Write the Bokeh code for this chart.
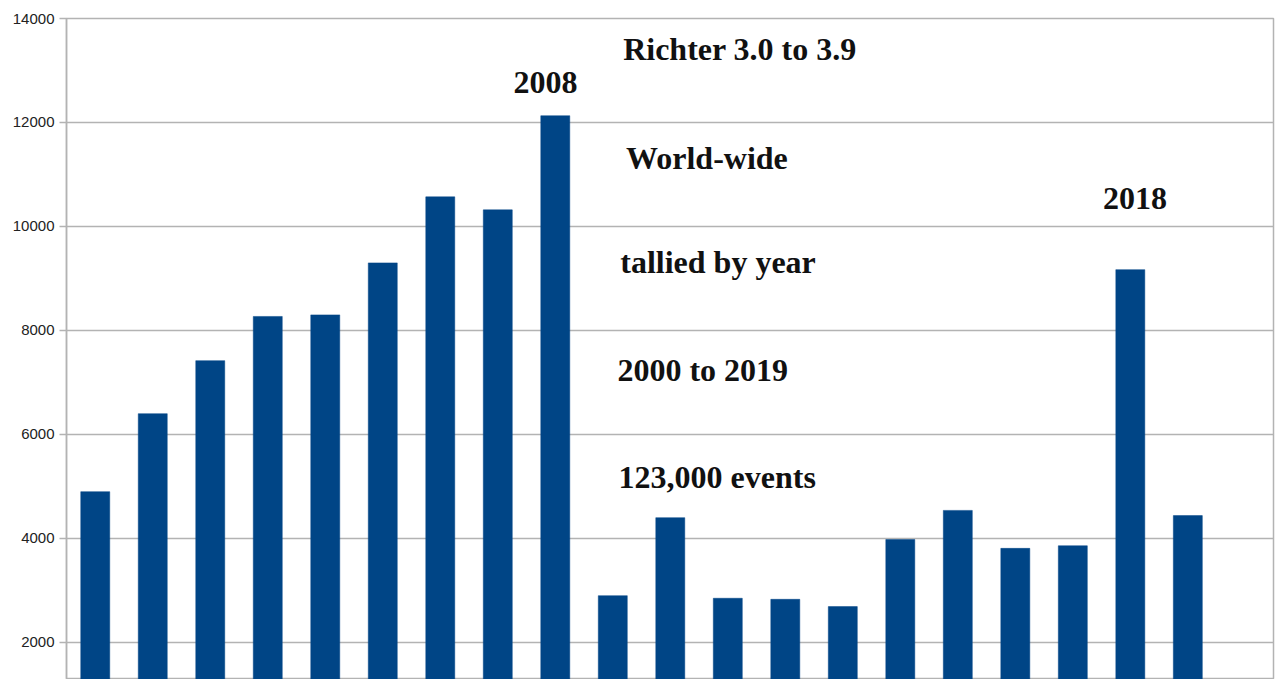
from bokeh.plotting import figure
from bokeh.models import Range1d, FixedTicker, Label
from bokeh.embed import file_html
from bokeh.resources import INLINE

# Data: Richter 3.0-3.9 earthquakes world-wide, tallied by year
years = [2000, 2001, 2002, 2003, 2004, 2005, 2006, 2007, 2008, 2009,
         2010, 2011, 2012, 2013, 2014, 2015, 2016, 2017, 2018, 2019]
counts = [4900, 6400, 7420, 8270, 8300, 9300, 10570, 10320, 12130, 2900,
          4400, 2850, 2830, 2690, 3980, 4540, 3810, 3860, 9170, 4440]
y_ticks = [2000, 4000, 6000, 8000, 10000, 12000, 14000]

title_lines = ["Richter 3.0 to 3.9", "World-wide", "tallied by year",
               "2000 to 2019", "123,000 events"]
highlight_years = ["2008", "2018"]

BAR = "#004586"
GRID = "#b3b3b3"

p = figure(width=1275, height=679, output_backend="svg", toolbar_location=None,
           x_range=Range1d(1999.5, 2020.49), y_range=Range1d(1288, 14000),
           min_border_left=66, min_border_right=2, min_border_top=18,
           min_border_bottom=0, background_fill_color="white",
           border_fill_color="white")
p.outline_line_color = GRID
p.outline_line_width = 1.5

p.vbar(x=years, top=counts, bottom=0, width=0.504, fill_color=BAR,
       line_color=BAR, line_width=0.5)

p.xaxis.visible = False
p.xgrid.visible = False
p.ygrid.grid_line_color = GRID
p.ygrid.grid_line_width = 1.5
p.yaxis.ticker = FixedTicker(ticks=y_ticks)
p.yaxis.minor_tick_line_color = None
p.yaxis.axis_line_color = GRID
p.yaxis.axis_line_width = 1.5
p.yaxis.major_tick_line_color = GRID
p.yaxis.major_tick_line_width = 1.5
p.yaxis.major_tick_out = 7
p.yaxis.major_tick_in = 0
p.yaxis.major_label_standoff = 5
p.yaxis.major_label_text_font = "Liberation Sans"
p.yaxis.major_label_text_font_size = "15px"
p.yaxis.major_label_text_color = "#222222"

font = "Liberation Serif"
title_pos = [(2009.18, 13404), (2009.23, 11308), (2009.13, 9308),
             (2009.08, 7231), (2009.10, 5173)]
for txt, (x, y) in zip(title_lines, title_pos):
    p.add_layout(Label(x=x, y=y, text=txt, text_font=font,
                       text_font_size="32px", text_font_style="bold",
                       text_color="#111111", text_baseline="middle",
                       text_align="left"))

hl_pos = [(2007.83, 12769), (2018.08, 10538)]
for txt, (x, y) in zip(highlight_years, hl_pos):
    p.add_layout(Label(x=x, y=y, text=txt, text_font=font,
                       text_font_size="32px", text_font_style="bold",
                       text_color="#111111", text_baseline="middle",
                       text_align="center"))

open("out.html", "w").write(file_html(p, INLINE))
